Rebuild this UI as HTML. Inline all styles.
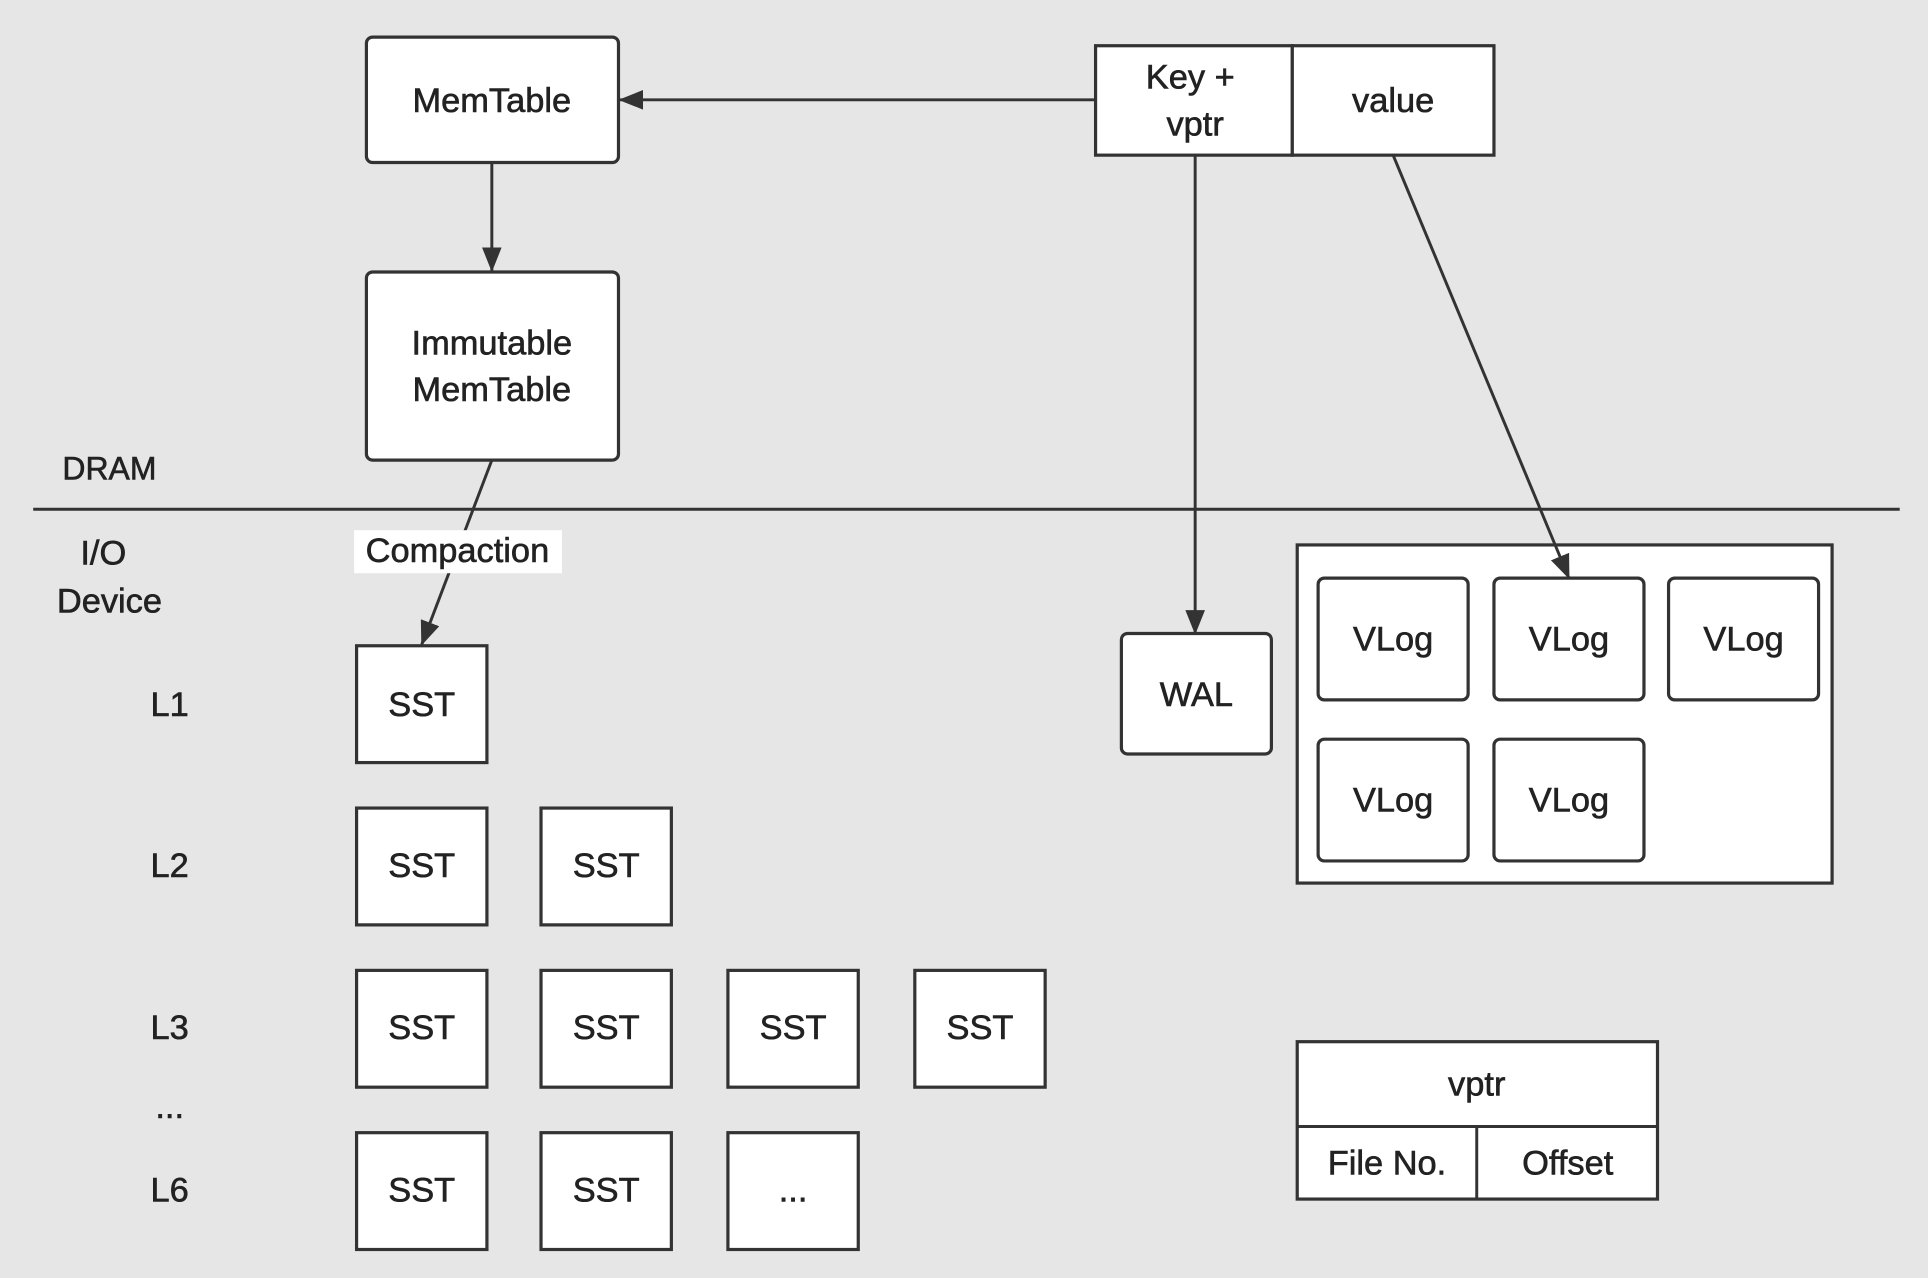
<!DOCTYPE html>
<html><head><meta charset="utf-8"><style>
html,body{margin:0;padding:0;background:#e6e6e6;}
svg{display:block;}
text{font-family:"Liberation Sans",sans-serif;fill:#222;stroke:#222;stroke-width:0.5;text-anchor:middle;dominant-baseline:central;font-size:28px;}
.b{fill:#fff;stroke:#333;stroke-width:2.6;}
.l{stroke:#333;stroke-width:2.4;fill:none;}
</style></head><body>
<svg width="1928" height="1278" viewBox="0 0 1568 1039" xmlns="http://www.w3.org/2000/svg">
<defs>
<marker id="A" markerWidth="20" markerHeight="16" refX="19" refY="8" orient="auto" markerUnits="userSpaceOnUse"><path d="M0,0 L20,8 L0,16 z" fill="#333"/></marker></defs>
<rect width="1568" height="1039" fill="#e6e6e6"/>
<rect class="b" x="298" y="30" width="205" height="102" rx="5"/>
<text x="400" y="82">MemTable</text>
<rect class="b" x="298" y="221" width="205" height="153" rx="5"/>
<text x="400" y="279">Immutable</text><text x="400" y="317">MemTable</text>
<line class="l" x1="400" y1="132" x2="400" y2="220" marker-end="url(#A)"/>
<rect class="b" x="891" y="37" width="160" height="89"/>
<rect class="b" x="1051" y="37" width="164" height="89"/>
<text x="968" y="63">Key +</text><text x="972" y="101">vptr</text><text x="1133" y="82">value</text>
<line class="l" x1="891" y1="81" x2="504" y2="81" marker-end="url(#A)"/>
<line class="l" x1="972" y1="126" x2="972" y2="515" marker-end="url(#A)"/>
<line class="l" x1="27" y1="414" x2="1545" y2="414"/>
<text x="89" y="381" style="font-size:26px">DRAM</text>
<text x="84" y="450">I/O</text><text x="89" y="489">Device</text>
<line class="l" x1="400" y1="374" x2="343" y2="524" marker-end="url(#A)"/>
<rect x="288" y="431" width="169" height="35" fill="#fff"/>
<text x="372" y="448">Compaction</text>
<text x="138" y="573">L1</text><text x="138" y="704">L2</text><text x="138" y="836">L3</text><text x="138" y="900">...</text><text x="138" y="968">L6</text>
<g>
<rect class="b" x="290" y="525" width="106" height="95"/><text x="343" y="573">SST</text>
<rect class="b" x="290" y="657" width="106" height="95"/><text x="343" y="704">SST</text>
<rect class="b" x="440" y="657" width="106" height="95"/><text x="493" y="704">SST</text>
<rect class="b" x="290" y="789" width="106" height="95"/><text x="343" y="836">SST</text>
<rect class="b" x="440" y="789" width="106" height="95"/><text x="493" y="836">SST</text>
<rect class="b" x="592" y="789" width="106" height="95"/><text x="645" y="836">SST</text>
<rect class="b" x="744" y="789" width="106" height="95"/><text x="797" y="836">SST</text>
<rect class="b" x="290" y="921" width="106" height="95"/><text x="343" y="968">SST</text>
<rect class="b" x="440" y="921" width="106" height="95"/><text x="493" y="968">SST</text>
<rect class="b" x="592" y="921" width="106" height="95"/><text x="645" y="968">...</text>
</g>
<rect class="b" x="912" y="515" width="122" height="98" rx="5"/><text x="973" y="565">WAL</text>
<rect class="b" x="1055" y="443" width="435" height="275"/>
<rect class="b" x="1072" y="470" width="122" height="99" rx="5"/><text x="1133" y="520">VLog</text>
<rect class="b" x="1215" y="470" width="122" height="99" rx="5"/><text x="1276" y="520">VLog</text>
<rect class="b" x="1357" y="470" width="122" height="99" rx="5"/><text x="1418" y="520">VLog</text>
<rect class="b" x="1072" y="601" width="122" height="99" rx="5"/><text x="1133" y="651">VLog</text>
<rect class="b" x="1215" y="601" width="122" height="99" rx="5"/><text x="1276" y="651">VLog</text>
<line class="l" x1="1133" y1="126" x2="1276" y2="470" marker-end="url(#A)"/>
<rect class="b" x="1055" y="847" width="293" height="128"/>
<line class="l" x1="1055" y1="916" x2="1348" y2="916"/>
<line class="l" x1="1201" y1="916" x2="1201" y2="975"/>
<text x="1201" y="882">vptr</text><text x="1128" y="946">File No.</text><text x="1275" y="946">Offset</text>
</svg>
</body></html>
